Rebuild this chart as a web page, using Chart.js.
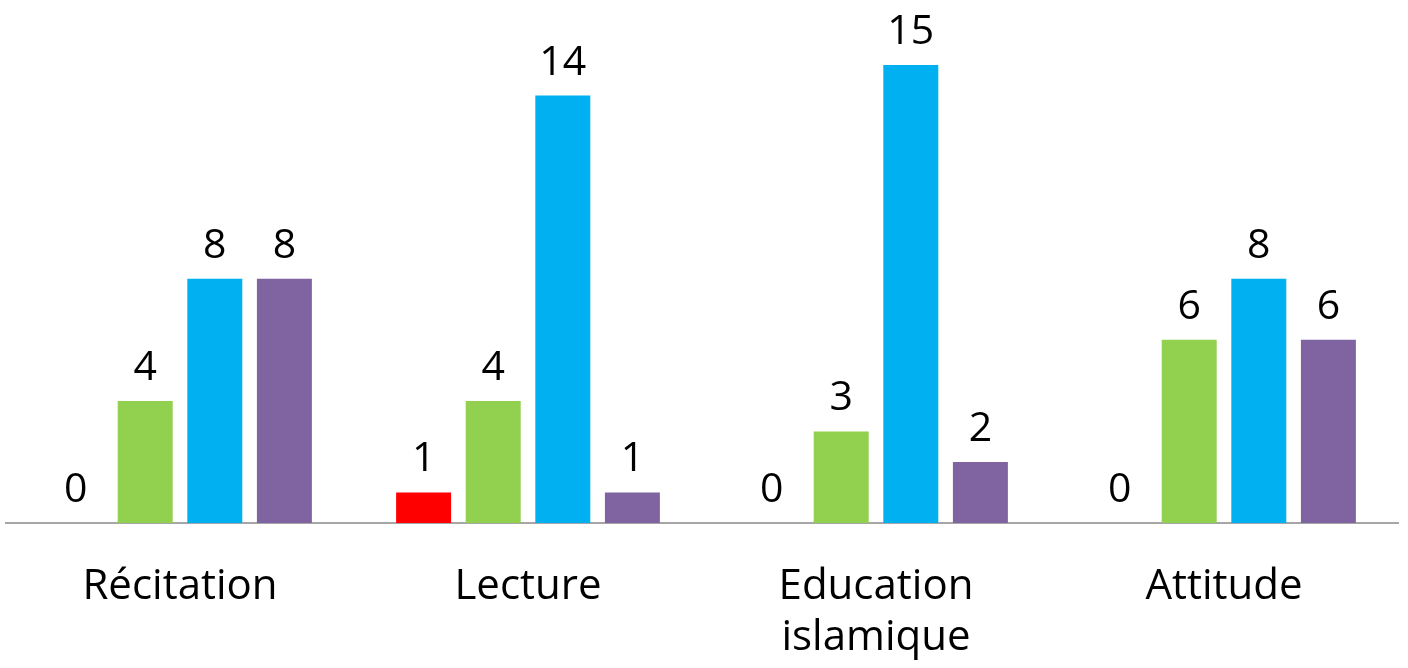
<!DOCTYPE html>
<html>
<head>
<meta charset="utf-8">
<script src="https://cdn.jsdelivr.net/npm/chart.js@4"></script>
<style>
  html, body { margin: 0; padding: 0; background: #fff; }
  #wrap { width: 1408px; height: 668px; }
</style>
</head>
<body>
<div id="wrap"><canvas id="bars" width="1408" height="668"></canvas></div>
<script>
const categories = ["Récitation", "Lecture", ["Education", "islamique"], "Attitude"];
const serieRouge = [0, 1, 0, 0];
const serieVerte = [4, 4, 3, 6];
const serieBleue = [8, 14, 15, 8];
const serieViolette = [8, 1, 2, 6];
const couleurs = ["#FF0000", "#92D050", "#00B0F0", "#8064A2"];

const valueLabels = {
  id: "valueLabels",
  afterDatasetsDraw(chart) {
    const ctx = chart.ctx;
    ctx.save();
    ctx.font = "41px 'Open Sans'";
    ctx.fillStyle = "#000";
    ctx.textAlign = "center";
    ctx.textBaseline = "alphabetic";
    chart.data.datasets.forEach((ds, i) => {
      chart.getDatasetMeta(i).data.forEach((bar, j) => {
        ctx.fillText(String(ds.data[j]), bar.x, bar.y - 21);
      });
    });
    ctx.restore();
  }
};

const series = [serieRouge, serieVerte, serieBleue, serieViolette];

new Chart(document.getElementById("bars"), {
  type: "bar",
  data: {
    labels: categories,
    datasets: series.map((d, i) => ({
      data: d,
      backgroundColor: couleurs[i],
      borderWidth: 0
    }))
  },
  options: {
    responsive: false,
    animation: false,
    datasets: { bar: { categoryPercentage: 0.8, barPercentage: 0.79 } },
    layout: { padding: { left: 6, right: 10, top: 0, bottom: 0 } },
    plugins: {
      legend: { display: false },
      tooltip: { enabled: false }
    },
    scales: {
      x: {
        grid: { display: false, drawTicks: false },
        border: { display: true, color: "#a6a6a6", width: 2 },
        ticks: {
          color: "#000",
          font: { family: "'Open Sans'", size: 42, lineHeight: 1.2 },
          padding: 39,
          maxRotation: 0,
          autoSkip: false
        },
        afterFit(scale) { scale.height = 145; }
      },
      y: {
        display: false,
        min: 0,
        max: 17.13
      }
    }
  },
  plugins: [valueLabels]
});
</script>
</body>
</html>
